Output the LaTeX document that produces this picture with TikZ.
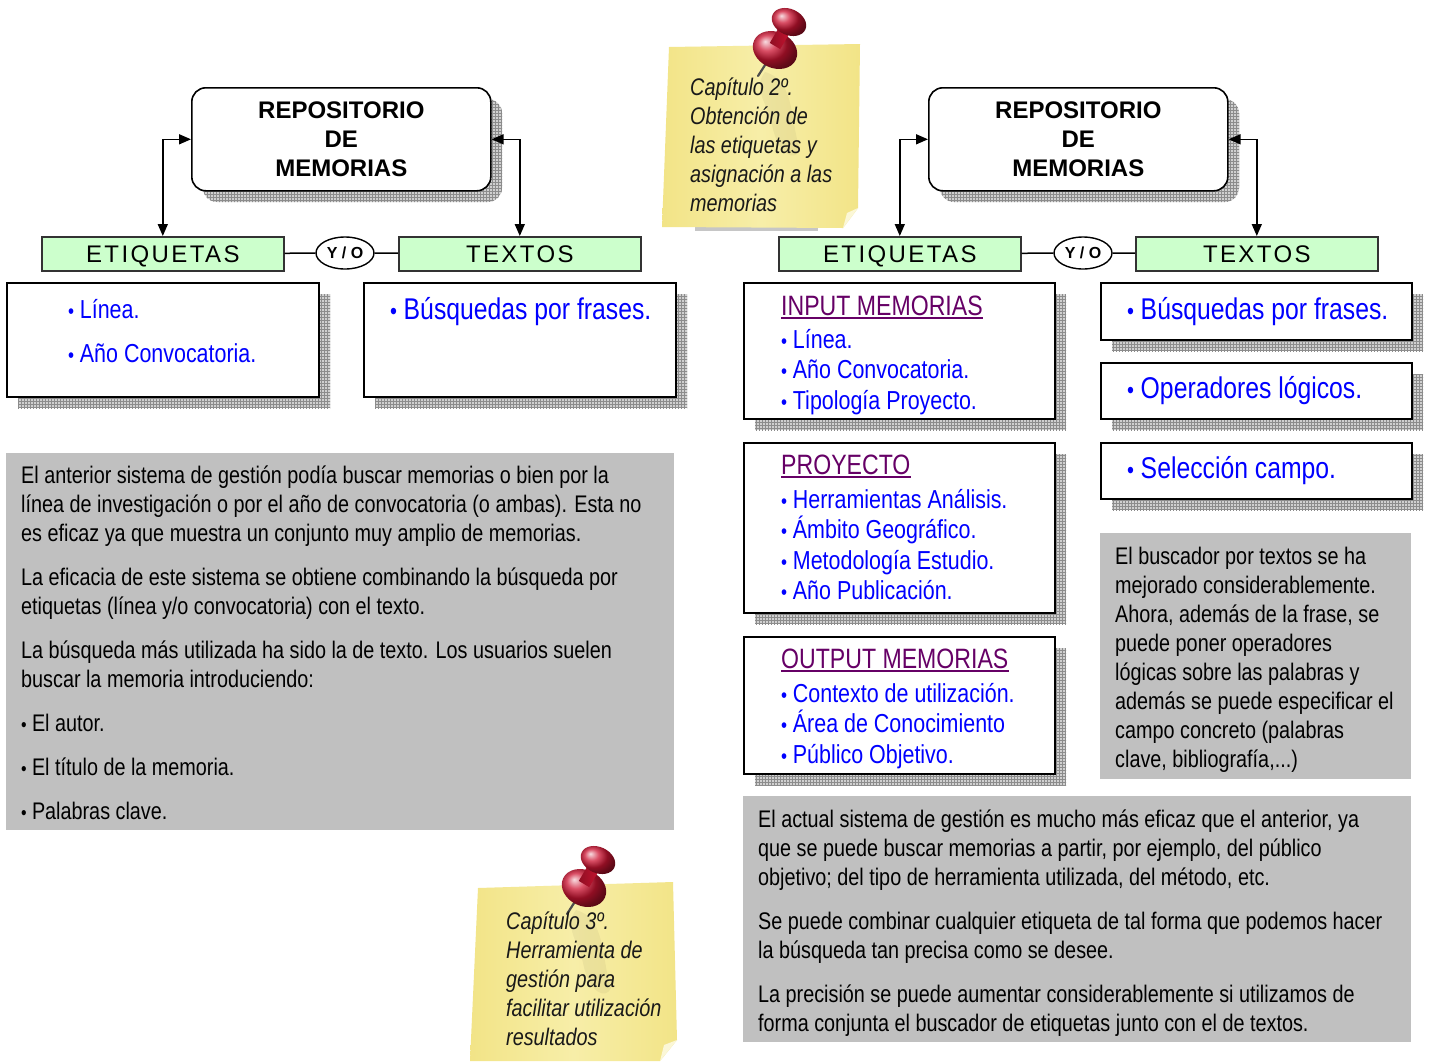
\documentclass[tikz,border=0pt]{standalone}
\usepackage{graphicx}
\usepackage{fontspec}
\setmainfont{Liberation Sans}[FakeStretch=0.825]
\newfontfamily\plainfont{Liberation Sans}
\newfontfamily\spacedfont{Liberation Sans}[LetterSpace=10]
\usetikzlibrary{patterns,shapes.geometric,arrows.meta}
\definecolor{itemblue}{RGB}{0,0,255}
\definecolor{headpurple}{RGB}{102,0,102}
\definecolor{labgreen}{RGB}{204,255,204}
\definecolor{boxgray}{RGB}{192,192,192}
\definecolor{shfill}{RGB}{208,208,208}
\definecolor{shline}{RGB}{140,140,140}
\definecolor{noteEdge}{RGB}{242,228,135}
\definecolor{noteMid}{RGB}{247,238,168}
\definecolor{noteLight}{RGB}{251,247,215}
\definecolor{notetext}{RGB}{25,25,25}
\definecolor{pinred}{RGB}{205,20,50}
\newcommand\fbody{\fontsize{24}{29}\selectfont}
\newcommand\fitem{\fontsize{26}{30.5}\selectfont}
\newcommand\fbig{\fontsize{30}{36}\selectfont}
\newcommand\fhead{\fontsize{28}{34}\selectfont}
\newcommand\frepo{\plainfont\bfseries\fontsize{24}{29}\selectfont}
\newcommand\flabel{\spacedfont\fontsize{24}{29}\selectfont}
\newcommand\fyo{\plainfont\bfseries\fontsize{16}{18}\selectfont}
\newcommand\fnote{\itshape\fontsize{24}{29}\selectfont}
\newcommand\bul{\scalebox{0.8}{•}\hspace{0.22em}}
\newcommand\fs{\rule{0pt}{1em}}
\newcommand\shadowed[5]{%
  \path[shadowgrid] (#2+12,#3+12) rectangle (#4+12,#5+12);
  \node[whitebox, anchor=north west, minimum width=#4-#2, minimum height=#5-#3] (#1) at (#2,#3) {};}
\tikzset{
  shadowgrid/.style={fill=shfill, postaction={pattern=grid, pattern color=shline}},
  whitebox/.style={draw=black, line width=1.6pt, fill=white, inner sep=0},
  repobox/.style={draw=black, line width=1.6pt, fill=white, rounded corners=14pt,
    anchor=north west, minimum width=299, minimum height=103, align=center, font=\frepo, inner sep=0},
  labbox/.style={draw=black!80, line width=1.6pt, fill=labgreen, anchor=north west,
    minimum width=242, minimum height=34, font=\flabel, inner sep=0, text height=17.5pt, text depth=0pt},
  yonode/.style={draw=black, line width=1.4pt, fill=white, ellipse, minimum width=58,
    minimum height=32, inner sep=0, font=\fyo, text height=11.5pt, text depth=0pt},
  graybox/.style={fill=boxgray, anchor=north west, inner sep=0},
  txt/.style={inner sep=0, anchor=base west, align=left},
  mtxt/.style={inner sep=0, anchor=north west, align=left},
  dbl/.style={{Triangle[length=12pt,width=10pt]}-{Triangle[length=12pt,width=10pt]}, line width=1.5pt},
  conn/.style={line width=1.5pt},
  uline/.style={headpurple, line width=2pt},
  pushpin/.pic={
    \draw[line width=2.2pt, gray!60!black, line cap=round] (-8,12) -- (-17,26);
    \shade[ball color=pinred] (0,0) ellipse [x radius=23, y radius=18, rotate=-25];
    \shade[left color=pinred!70!black, right color=pinred] (-5.2,-7.1) -- (5.2,-0.9) -- (18.2,-22.9) -- (7.8,-29.1) -- cycle;
    \shade[ball color=pinred] (14,-28) ellipse [x radius=18, y radius=13, rotate=-25];
  }
}
\begin{document}
\begin{tikzpicture}[x=1pt,y=-1pt]
\useasboundingbox (0,0) rectangle (1430,1061);
\fill[white] (0,0) rectangle (1430,1061);

% ---------------- LEFT SIDE ----------------
\path[shadowgrid, rounded corners=14pt] (203,99) rectangle (502,202);
\node[repobox] (repoL) at (191,87) {REPOSITORIO\\DE\\MEMORIAS};
\node[labbox] (etiqL) at (41,236) {ETIQUETAS};
\node[labbox] (textL) at (398,236) {TEXTOS};
\node[yonode] (yoL) at (345,253) {Y / O};
\draw[conn] (etiqL) -- (yoL);
\draw[conn] (yoL) -- (textL);
\draw[dbl] (etiqL.north) |- (repoL.west);
\draw[dbl] (textL.north) |- (repoL.east);

\shadowed{boxL1}{6}{282}{318}{396}
\shadowed{boxL2}{363}{282}{675}{396}
\node[txt, font=\fitem, text=itemblue] (l1a) at (68,318) {\bul Línea.};
\node[txt, font=\fitem, text=itemblue] (l1b) at (68,362) {\bul Año Convocatoria.};
\node[txt, font=\fbig, text=itemblue] (l2a) at (390,319) {\bul Búsquedas por frases.};

\node[graybox, minimum width=668, minimum height=377] (grayL) at (6,453) {};
\node[mtxt, font=\fbody] (gtL) at (21,459) {\fs El anterior sistema de gestión podía buscar memorias o bien por la\\
línea de investigación o por el año de convocatoria (o ambas). Esta no\\
es eficaz ya que muestra un conjunto muy amplio de memorias.\\[15pt]
La eficacia de este sistema se obtiene combinando la búsqueda por\\
etiquetas (línea y/o convocatoria) con el texto.\\[15pt]
La búsqueda más utilizada ha sido la de texto. Los usuarios suelen\\
buscar la memoria introduciendo:\\[15pt]
\bul El autor.\\[15pt]
\bul El título de la memoria.\\[15pt]
\bul Palabras clave.};

% ---------------- RIGHT SIDE ----------------
\path[shadowgrid, rounded corners=14pt] (940,99) rectangle (1239,202);
\node[repobox] (repoR) at (928,87) {REPOSITORIO\\DE\\MEMORIAS};
\node[labbox] (etiqR) at (778,236) {ETIQUETAS};
\node[labbox] (textR) at (1135,236) {TEXTOS};
\node[yonode] (yoR) at (1083,253) {Y / O};
\draw[conn] (etiqR) -- (yoR);
\draw[conn] (yoR) -- (textR);
\draw[dbl] (etiqR.north) |- (repoR.west);
\draw[dbl] (textR.north) |- (repoR.east);

\shadowed{boxIn}{743}{282}{1054}{418}
\shadowed{boxPr}{743}{442}{1054}{612}
\shadowed{boxOut}{743}{636}{1054}{773}
\shadowed{boxB}{1100}{282}{1411}{339}
\shadowed{boxO}{1100}{362}{1411}{418}
\shadowed{boxS}{1100}{442}{1411}{498}

\node[txt, font=\fhead, text=headpurple] (hIn) at (781,315) {INPUT MEMORIAS};
\draw[uline] ([yshift=-3pt]hIn.base west) -- ([yshift=-3pt]hIn.base east);
\node[mtxt, font=\fitem, text=itemblue] (iIn) at (781,322) {\fs\bul Línea.\\\bul Año Convocatoria.\\\bul Tipología Proyecto.};

\node[txt, font=\fhead, text=headpurple] (hPr) at (781,474) {PROYECTO};
\draw[uline] ([yshift=-3pt]hPr.base west) -- ([yshift=-3pt]hPr.base east);
\node[mtxt, font=\fitem, text=itemblue] (iPr) at (781,482) {\fs\bul Herramientas Análisis.\\\bul Ámbito Geográfico.\\\bul Metodología Estudio.\\\bul Año Publicación.};

\node[txt, font=\fhead, text=headpurple] (hOut) at (781,668) {OUTPUT MEMORIAS};
\draw[uline] ([yshift=-3pt]hOut.base west) -- ([yshift=-3pt]hOut.base east);
\node[mtxt, font=\fitem, text=itemblue] (iOut) at (781,676) {\fs\bul Contexto de utilización.\\\bul Área de Conocimiento\\\bul Público Objetivo.};

\node[txt, font=\fbig, text=itemblue] (tB) at (1127,319) {\bul Búsquedas por frases.};
\node[txt, font=\fbig, text=itemblue] (tO) at (1127,398) {\bul Operadores lógicos.};
\node[txt, font=\fbig, text=itemblue] (tS) at (1127,478) {\bul Selección campo.};

\node[graybox, minimum width=311, minimum height=246] (grayR1) at (1100,533) {};
\node[mtxt, font=\fbody] (gtR1) at (1115,540) {\fs El buscador por textos se ha\\
mejorado considerablemente.\\
Ahora, además de la frase, se\\
puede poner operadores\\
lógicas sobre las palabras y\\
además se puede especificar el\\
campo concreto (palabras\\
clave, bibliografía,...)};

\node[graybox, minimum width=668, minimum height=246] (grayR2) at (743,796) {};
\node[mtxt, font=\fbody] (gtR2) at (758,803) {\fs El actual sistema de gestión es mucho más eficaz que el anterior, ya\\
que se puede buscar memorias a partir, por ejemplo, del público\\
objetivo; del tipo de herramienta utilizada, del método, etc.\\[15pt]
Se puede combinar cualquier etiqueta de tal forma que podemos hacer\\
la búsqueda tan precisa como se desee.\\[15pt]
La precisión se puede aumentar considerablemente si utilizamos de\\
forma conjunta el buscador de etiquetas junto con el de textos.};

% ---------------- STICKY NOTES ----------------
\fill[gray!45] (695,226) rectangle (818,231);
\shade[left color=noteEdge, right color=noteEdge, middle color=noteMid]
  (669,47) -- (860,44) -- (858,208) -- (843,228) -- (662,227) -- cycle;
\fill[noteLight] (858,208) -- (843,228) -- (847,213) -- cycle;
\fill[black, opacity=0.045] (765,72) .. controls (795,80) and (790,120) .. (800,150)
  .. controls (795,162) and (778,155) .. (772,125) .. controls (768,105) and (752,88) .. (765,72);
\pic at (775,50) {pushpin};
\node[mtxt, font=\fnote, text=notetext] (n1t) at (690,71) {\fs Capítulo 2º.\\Obtención de\\las etiquetas y\\asignación a las\\memorias};

\shade[left color=noteEdge, right color=noteEdge, middle color=noteMid]
  (478,888) -- (673,882) -- (677,1040) -- (660,1061) -- (470,1061) -- cycle;
\fill[noteLight] (677,1040) -- (660,1061) -- (664,1045) -- cycle;
\fill[black, opacity=0.045] (576,910) .. controls (606,918) and (601,958) .. (611,988)
  .. controls (606,1000) and (589,993) .. (583,963) .. controls (579,943) and (563,926) .. (576,910);
\pic at (584,888) {pushpin};
\node[mtxt, font=\fnote, text=notetext] (n2t) at (506,905) {\fs Capítulo 3º.\\Herramienta de\\gestión para\\facilitar utilización\\resultados};
\end{tikzpicture}
\end{document}
